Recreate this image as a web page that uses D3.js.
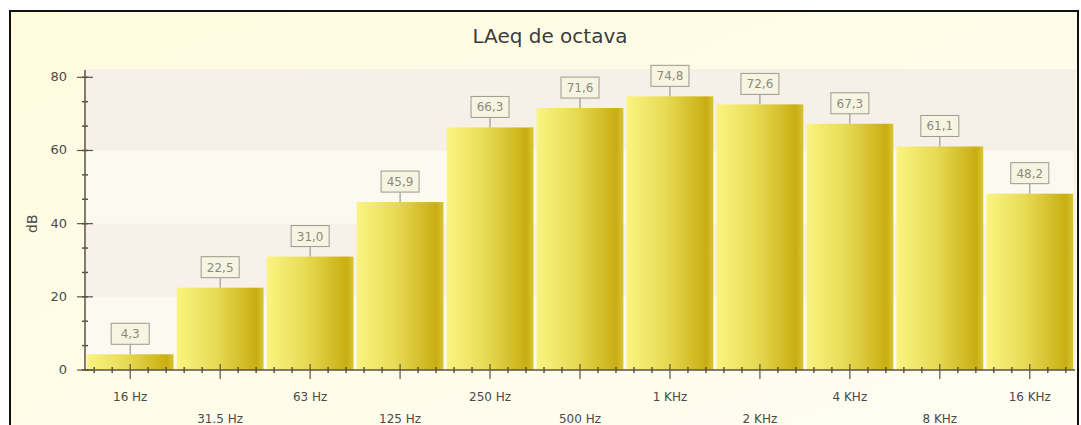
<!DOCTYPE html>
<html>
<head>
<meta charset="utf-8">
<script src="https://cdn.jsdelivr.net/npm/d3@7"></script>
<style>
body { margin: 0; background: #fff; }
</style>
</head>
<body>
<div id="chart"></div>
<script>
var svgWidth = 1081
var svgHeight = 425

var bands = ["16 Hz", "31.5 Hz", "63 Hz", "125 Hz", "250 Hz", "500 Hz", "1 KHz", "2 KHz", "4 KHz", "8 KHz", "16 KHz"]
var levels = [4.3, 22.5, 31.0, 45.9, 66.3, 71.6, 74.8, 72.6, 67.3, 61.1, 48.2]
var yTicks = [0, 20, 40, 60, 80]

var margin = { top: 70, right: 6, left: 85, bottom: 55 }
var chartWidth = svgWidth - margin.left - margin.right
var chartHeight = svgHeight - margin.top - margin.bottom

var svg = d3.select("#chart").append("svg").attr("width", svgWidth).attr("height", svgHeight)

var defs = svg.append("defs")
var bg = defs.append("linearGradient").attr("id", "bg").attr("x1", 0).attr("y1", 0).attr("x2", 1).attr("y2", 1)
bg.append("stop").attr("offset", "0%").attr("stop-color", "#fffbdf")
bg.append("stop").attr("offset", "100%").attr("stop-color", "#fffdf3")

var barGrad = defs.append("linearGradient").attr("id", "bar").attr("x1", 0).attr("x2", 1).attr("y1", 0).attr("y2", 0)
barGrad.append("stop").attr("offset", "0%").attr("stop-color", "#faf481")
barGrad.append("stop").attr("offset", "45%").attr("stop-color", "#e7db55")
barGrad.append("stop").attr("offset", "92%").attr("stop-color", "#c9ae12")
barGrad.append("stop").attr("offset", "100%").attr("stop-color", "#d8c535")

// outer panel
svg.append("rect").attr("x", 10).attr("y", 11).attr("width", 1068).attr("height", 430)
    .attr("fill", "url(#bg)").attr("stroke", "#111").attr("stroke-width", 2)

svg.append("text")
    .attr("x", 550).attr("y", 43)
    .attr("text-anchor", "middle")
    .attr("font-family", "DejaVu Sans")
    .attr("font-size", "20px")
    .attr("fill", "#3c3c3c")
    .text("LAeq de octava")

var chartGroup = svg.append("g").attr("transform", `translate(${margin.left}, ${margin.top})`)

var xScale = d3.scaleBand().domain(bands).range([0, chartWidth]).paddingInner(0.035).paddingOuter(0.02)
var yScale = d3.scaleLinear().domain([0, 82]).range([chartHeight, 0])

// plot background with stripes
chartGroup.append("rect").attr("x", 0).attr("y", 0).attr("width", chartWidth).attr("height", chartHeight)
    .attr("fill", "#fcf9f1").attr("stroke", "#f1ead6")

var stripes = [[60, 82, "#f7f0e8"], [20, 40, "#f7f1ea"]]
chartGroup.selectAll(".stripe").data(stripes).enter().append("rect")
    .attr("x", 1).attr("width", chartWidth - 2)
    .attr("y", d => yScale(d[1]))
    .attr("height", d => yScale(d[0]) - yScale(d[1]))
    .attr("fill", d => d[2])

// bars
chartGroup.selectAll(".bar").data(levels).enter().append("rect")
    .attr("x", (d, i) => xScale(bands[i]))
    .attr("y", d => yScale(d))
    .attr("width", xScale.bandwidth())
    .attr("height", d => yScale(0) - yScale(d))
    .attr("fill", "url(#bar)")

// value labels
var labels = chartGroup.selectAll(".lbl").data(levels).enter().append("g")
    .attr("transform", (d, i) => `translate(${xScale(bands[i]) + xScale.bandwidth() / 2}, ${yScale(d)})`)
labels.append("line").attr("x1", 0).attr("x2", 0).attr("y1", 0).attr("y2", -10).attr("stroke", "#8a8a80")
labels.append("rect").attr("x", -19).attr("y", -31).attr("width", 38).attr("height", 21)
    .attr("fill", "#f7f5e2").attr("stroke", "#9a9a8e")
labels.append("text").attr("x", 0).attr("y", -16)
    .attr("text-anchor", "middle")
    .attr("font-family", "DejaVu Sans")
    .attr("font-size", "12px")
    .attr("fill", "#8a8a80")
    .text(d => d.toFixed(1).replace(".", ","))

// y axis
var axisColor = "#5e5444"
chartGroup.append("line").attr("x1", 0).attr("x2", 0).attr("y1", 0).attr("y2", chartHeight)
    .attr("stroke", axisColor).attr("stroke-width", 1.5)
var yMinor = d3.range(0, 80.01, 20 / 3)
chartGroup.selectAll(".ymin").data(yMinor).enter().append("line")
    .attr("x1", -3).attr("x2", 3)
    .attr("y1", d => yScale(d)).attr("y2", d => yScale(d))
    .attr("stroke", axisColor).attr("stroke-width", 1.5)
chartGroup.selectAll(".ymaj").data(yTicks).enter().append("line")
    .attr("x1", -8).attr("x2", 8)
    .attr("y1", d => yScale(d)).attr("y2", d => yScale(d))
    .attr("stroke", axisColor).attr("stroke-width", 1.2)
chartGroup.selectAll(".ylab").data(yTicks).enter().append("text")
    .attr("x", -18).attr("y", d => yScale(d) + 4)
    .attr("text-anchor", "end")
    .attr("font-family", "DejaVu Sans")
    .attr("font-size", "13px")
    .attr("fill", "#4a4a4a")
    .text(d => d)

chartGroup.append("text")
    .attr("transform", `translate(-48, ${yScale(40)}) rotate(-90)`)
    .attr("text-anchor", "middle")
    .attr("font-family", "DejaVu Sans")
    .attr("font-size", "14px")
    .attr("fill", "#4a4a4a")
    .text("dB")

// x axis
chartGroup.append("line").attr("x1", 0).attr("x2", chartWidth).attr("y1", chartHeight).attr("y2", chartHeight)
    .attr("stroke", axisColor).attr("stroke-width", 1.5)
var step = xScale.step()
var xMinor = []
bands.forEach(function (b) {
    var c = xScale(b) + xScale.bandwidth() / 2
    ;[-2, -1, 1, 2].forEach(k => xMinor.push(c + k * step / 5))
})
chartGroup.selectAll(".xmin").data(xMinor).enter().append("line")
    .attr("x1", d => d).attr("x2", d => d)
    .attr("y1", chartHeight - 3).attr("y2", chartHeight + 3)
    .attr("stroke", axisColor).attr("stroke-width", 1.5)
chartGroup.selectAll(".xmaj").data(bands).enter().append("line")
    .attr("x1", d => xScale(d) + xScale.bandwidth() / 2).attr("x2", d => xScale(d) + xScale.bandwidth() / 2)
    .attr("y1", chartHeight - 6).attr("y2", chartHeight + 9)
    .attr("stroke", axisColor).attr("stroke-width", 1.2)
chartGroup.selectAll(".xlab").data(bands).enter().append("text")
    .attr("x", d => xScale(d) + xScale.bandwidth() / 2)
    .attr("y", (d, i) => chartHeight + (i % 2 === 0 ? 31 : 53))
    .attr("text-anchor", "middle")
    .attr("font-family", "DejaVu Sans")
    .attr("font-size", "12px")
    .attr("fill", "#4a4a4a")
    .text(d => d)
</script>
</body>
</html>
